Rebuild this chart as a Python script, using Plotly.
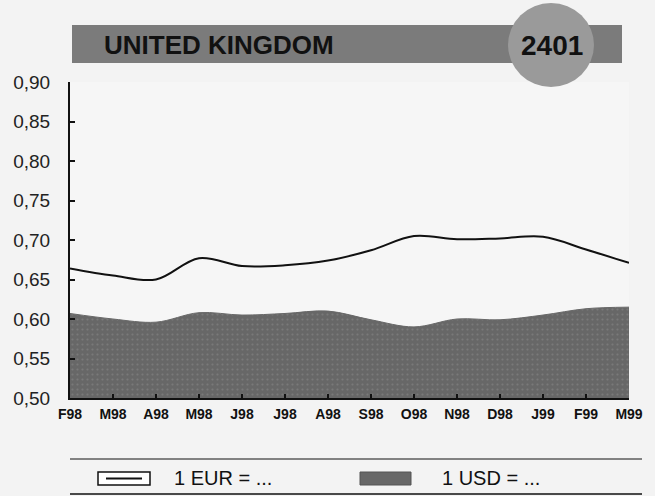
import plotly.graph_objects as go

# --- data ---
months = ["F98", "M98", "A98", "M98", "J98", "J98", "A98", "S98",
          "O98", "N98", "D98", "J99", "F99", "M99"]
eur = [0.664, 0.655, 0.650, 0.677, 0.667, 0.668, 0.674, 0.687,
       0.705, 0.701, 0.702, 0.704, 0.688, 0.671]
usd = [0.607, 0.600, 0.596, 0.608, 0.605, 0.607, 0.610, 0.599,
       0.590, 0.600, 0.599, 0.605, 0.613, 0.615]
y_ticks = [0.50, 0.55, 0.60, 0.65, 0.70, 0.75, 0.80, 0.85, 0.90]
country = "UNITED KINGDOM"
code = "2401"
legend_labels = ["1 EUR = ...", "1 USD = ..."]

W, H = 655, 496
L, R, T, B = 70, 26, 82, 98
PW, PH = W - L - R, H - T - B

FONT = "Liberation Sans, Arial, sans-serif"
INK = "#111111"
BG = "#f3f3f3"
DARK = "#676767"


def px(x):
    return (x - L) / PW


def py(y):
    return (H - B - y) / PH


x = list(range(len(months)))

fig = go.Figure()
fig.add_trace(go.Scatter(
    x=x, y=usd, mode="lines", line=dict(color=DARK, width=1, shape="spline"),
    fill="tozeroy", fillcolor=DARK,
    fillpattern=dict(shape=".", fgcolor="#8c8c8c", bgcolor=DARK, size=5, solidity=0.15),
    showlegend=False, hoverinfo="skip"))
fig.add_trace(go.Scatter(
    x=x, y=eur, mode="lines", line=dict(color=INK, width=2, shape="spline", smoothing=1),
    showlegend=False))

shapes = [
    # header strip + circle
    dict(type="rect", xref="paper", yref="paper", x0=px(72), x1=px(622), y0=py(63), y1=py(25),
         fillcolor="#7b7b7b", line=dict(width=0), layer="above"),
    dict(type="circle", xref="paper", yref="paper", x0=px(508), x1=px(594), y0=py(87), y1=py(3),
         fillcolor="#9a9a9a", line=dict(width=0), layer="above"),
    # legend rules
    dict(type="line", xref="paper", yref="paper", x0=px(70), x1=px(642), y0=py(459), y1=py(459),
         line=dict(color=INK, width=1)),
    dict(type="line", xref="paper", yref="paper", x0=px(70), x1=px(642), y0=py(494), y1=py(494),
         line=dict(color=INK, width=1.5)),
    # legend swatches
    dict(type="rect", xref="paper", yref="paper", x0=px(98), x1=px(150), y0=py(485), y1=py(472),
         fillcolor="white", line=dict(color=INK, width=1.5)),
    dict(type="line", xref="paper", yref="paper", x0=px(106), x1=px(142), y0=py(478.5), y1=py(478.5),
         line=dict(color=INK, width=2)),
    dict(type="rect", xref="paper", yref="paper", x0=px(360), x1=px(411), y0=py(485), y1=py(472),
         fillcolor=DARK, line=dict(color="#555555", width=1)),
]

annotations = [
    dict(text=f"<b>{country}</b>", xref="paper", yref="paper", x=px(102), y=py(45),
         xanchor="left", yanchor="middle", showarrow=False,
         font=dict(family=FONT, size=26, color=INK)),
    dict(text=f"<b>{code}</b>", xref="paper", yref="paper", x=px(552), y=py(45),
         xanchor="center", yanchor="middle", showarrow=False,
         font=dict(family=FONT, size=28, color=INK)),
    dict(text=legend_labels[0], xref="paper", yref="paper", x=px(172), y=py(478),
         xanchor="left", yanchor="middle", showarrow=False,
         font=dict(family=FONT, size=20, color=INK)),
    dict(text=legend_labels[1], xref="paper", yref="paper", x=px(440), y=py(478),
         xanchor="left", yanchor="middle", showarrow=False,
         font=dict(family=FONT, size=20, color=INK)),
]

fig.update_layout(
    width=W, height=H, autosize=False,
    margin=dict(l=L, r=R, t=T, b=B, pad=0),
    paper_bgcolor=BG, plot_bgcolor="#f6f6f6",
    separators=", ",
    font=dict(family=FONT, color=INK),
    shapes=shapes, annotations=annotations,
    xaxis=dict(range=[0, len(months) - 1], tickvals=x, ticktext=months,
               showgrid=False, zeroline=False, showline=True, linecolor=INK, linewidth=2,
               ticks="inside", ticklen=4, tickcolor=INK, tickwidth=1.5, ticklabelstandoff=2,
               tickfont=dict(family=FONT, size=14, color=INK, weight="bold")),
    yaxis=dict(range=[0.5, 0.9], tickvals=y_ticks, tickformat=".2f",
               showgrid=False, zeroline=False, showline=True, linecolor=INK, linewidth=2,
               ticks="inside", ticklen=5, tickcolor=INK, tickwidth=1.5, ticklabelstandoff=14,
               tickfont=dict(family=FONT, size=19, color="#222222")),
)

fig.write_html("out.html", config={"displayModeBar": False},
               post_script="document.body.style.margin='0px';")
